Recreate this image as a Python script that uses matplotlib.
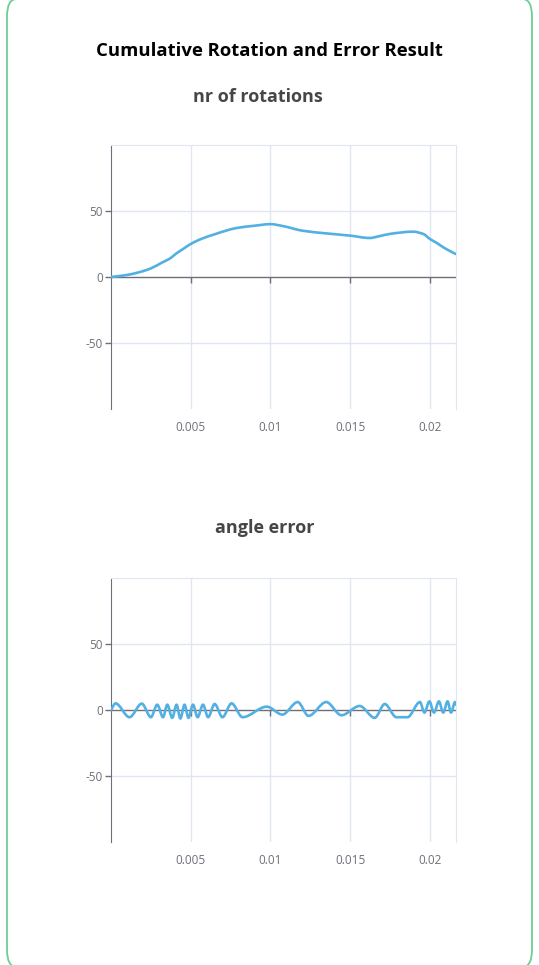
import numpy as np
import matplotlib.pyplot as plt
from matplotlib.path import Path
from matplotlib.patches import PathPatch, FancyBboxPatch

# ----------------------------------------------------
# data
# ----------------------------------------------------
rot_x = [0, 0.0009, 0.00174, 0.0025, 0.00321, 0.0037, 0.00405, 0.0045, 0.005,
         0.0057, 0.00657, 0.0072, 0.00783, 0.009, 0.01, 0.0108, 0.01203, 0.0135,
         0.015, 0.01623, 0.0168, 0.01749, 0.01895, 0.0196, 0.02, 0.0204,
         0.02084, 0.0212, 0.02162]
rot_y = [0, 1.3, 3.5, 6.5, 11, 14, 17.4, 21, 25,
         29, 32.6, 35, 37, 38.8, 40, 38.5, 35, 33,
         31.3, 29.5, 30.8, 32.6, 34.3, 32.5, 28.8, 26,
         22.5, 20, 17.4]

err_x = [0, 0.00028, 0.00116, 0.00193, 0.0025, 0.0029, 0.00326, 0.00353, 0.00384,
         0.00411, 0.00435, 0.00461, 0.00486, 0.00514, 0.00543, 0.00577, 0.00609,
         0.0065, 0.00699, 0.00756, 0.00825, 0.00977, 0.01075, 0.01171, 0.01239,
         0.0135, 0.01445, 0.0156, 0.01654, 0.01717, 0.0179, 0.0186, 0.01938,
         0.01966, 0.01997, 0.02026, 0.02057, 0.02084, 0.02111, 0.02133, 0.02158,
         0.02164]
err_y = [0, 5, -5.5, 4.8, -5.5, 4, -5.5, 4, -6,
         4, -6.5, 4, -6, 4, -5.5, 4, -5.5,
         4.5, -5.5, 5, -5.5, 2.5, -3.5, 6, -4.5,
         6, -4, 3, -6, 4.5, -5.5, -5.5, 6,
         -2, 6.5, -2, 6.5, -2, 6.5, -2, 6,
         4]

x_ticks = [0.005, 0.01, 0.015, 0.02]
x_labels = ["0.005", "0.01", "0.015", "0.02"]
y_ticks = [-50, 0, 50]
y_labels = ["-50", "0", "50"]

LINE = '#52b0e2'
AXIS = '#6e7079'
GRID = '#e0e6f1'

plt.rcParams['font.family'] = ['Open Sans', 'DejaVu Sans']


def smooth_path(x, y):
    # monotone cubic through the points, written out as bezier segments
    x = np.asarray(x, float)
    y = np.asarray(y, float)
    h = np.diff(x)
    d = np.diff(y) / h
    m = np.zeros_like(y)
    m[0], m[-1] = d[0], d[-1]
    for i in range(1, len(x) - 1):
        if d[i - 1] * d[i] <= 0:
            m[i] = 0
        else:
            w1 = 2 * h[i] + h[i - 1]
            w2 = h[i] + 2 * h[i - 1]
            m[i] = (w1 + w2) / (w1 / d[i - 1] + w2 / d[i])
    verts = [(x[0], y[0])]
    codes = [Path.MOVETO]
    for i in range(len(x) - 1):
        verts += [(x[i] + h[i] / 3, y[i] + m[i] * h[i] / 3),
                  (x[i + 1] - h[i] / 3, y[i + 1] - m[i + 1] * h[i] / 3),
                  (x[i + 1], y[i + 1])]
        codes += [Path.CURVE4] * 3
    return Path(verts, codes)


def setup(ax, xs, ys):
    ax.set_xlim(0, 0.02164)
    ax.set_ylim(-100, 100)
    for s in ['top', 'right']:
        ax.spines[s].set_color(GRID)
    ax.spines['bottom'].set_visible(False)
    ax.spines['left'].set_color(AXIS)
    ax.set_xticks(x_ticks)
    ax.set_xticklabels(x_labels)
    ax.set_yticks(y_ticks)
    ax.set_yticklabels(y_labels)
    ax.tick_params(axis='x', length=0, pad=9, labelsize=8.5, labelcolor=AXIS)
    ax.tick_params(axis='y', length=4, width=1, color=AXIS, pad=2,
                   labelsize=8.5, labelcolor=AXIS)
    for t in x_ticks:
        ax.axvline(t, color=GRID, lw=1, zorder=0)
    for t in [50, -50]:
        ax.axhline(t, color=GRID, lw=1, zorder=0)
    ax.axhline(0, color=AXIS, lw=1, zorder=1)
    ax.plot(x_ticks, [0] * len(x_ticks), ls='none', marker=3,
            ms=4, mew=1, color=AXIS, zorder=1)
    ax.add_patch(PathPatch(smooth_path(xs, ys), fill=False, edgecolor=LINE,
                           lw=1.9, capstyle='round', joinstyle='round', zorder=3))


fig = plt.figure(figsize=(5.39, 9.65), dpi=100)
fig.patch.set_facecolor('white')

ax1 = fig.add_axes([0.206, 0.5762, 0.640, 0.2736])
ax2 = fig.add_axes([0.206, 0.1275, 0.640, 0.2736])
setup(ax1, rot_x, rot_y)
setup(ax2, err_x, err_y)

fig.text(0.5, 1 - 51 / 965, "Cumulative Rotation and Error Result",
         ha='center', va='center', fontsize=13.3, fontweight='bold', color='black')
fig.text(258 / 539, 1 - 97 / 965, "nr of rotations", ha='center', va='center',
         fontsize=13, fontweight='bold', color='#464646')
fig.text(265 / 539, 1 - 528 / 965, "angle error", ha='center', va='center',
         fontsize=13, fontweight='bold', color='#464646')

# rounded card border
fig.patches.append(FancyBboxPatch((7 / 539, -2 / 965), 525 / 539, 968 / 965,
                                  boxstyle="round,pad=0,rounding_size=0.018",
                                  transform=fig.transFigure, fill=False,
                                  edgecolor='#6ccf93', lw=1.3))

plt.savefig("out.png", dpi=100)
